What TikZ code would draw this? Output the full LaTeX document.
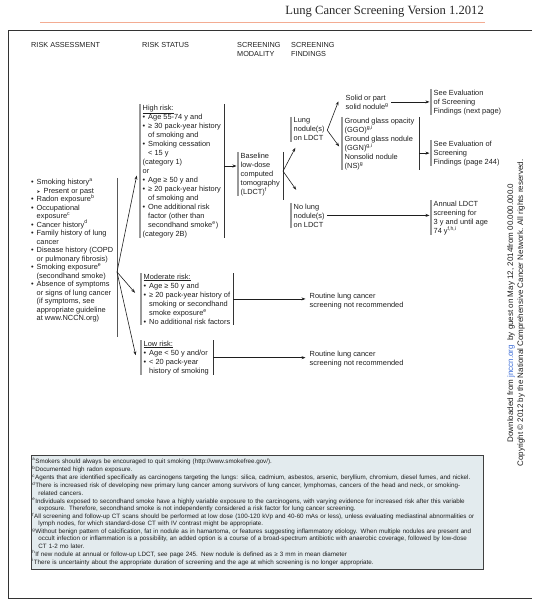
\documentclass[tikz,border=0pt]{standalone}
\usepackage{fontspec}
\setmainfont{Liberation Sans}
\newfontfamily\titlefont{Liberation Serif}
\newfontfamily\symfont{DejaVu Sans}
\usetikzlibrary{arrows.meta, calc}

\definecolor{salmon}{HTML}{F3AC92}
\definecolor{notefill}{HTML}{E3EBEE}
\definecolor{linkblue}{HTML}{3A6BD6}
\definecolor{ink}{HTML}{1E1E1E}

\hyphenpenalty=10000
\exhyphenpenalty=10000
\newcommand{\bul}{\makebox[5.5pt][l]{\textbullet}}
\newcommand{\ind}{\hspace*{5.5pt}}
\newcommand{\subbul}{\hspace*{5.5pt}\makebox[7pt][l]{\symfont\fontsize{4.5}{8.5}\selectfont ➤}}
\newcommand{\fnline}[2]{\hangindent=6pt\hangafter=1\noindent\textsuperscript{#1}#2\par\vspace{1.1pt}}

\begin{document}
\begin{tikzpicture}[x=1pt, y=-1pt, >={Stealth[length=4pt, width=3pt]},
  every node/.style={text=ink},
  head/.style={anchor=north west, inner sep=0pt, align=left, font=\fontsize{7.3}{9.5}\selectfont},
  blk/.style={anchor=north west, inner xsep=2.5pt, inner ysep=0.5pt, align=left, font=\fontsize{7.4}{9}\selectfont},
  lbar/.style={draw=black!40, line width=1.1pt},
  rbar/.style={draw=black!80, line width=0.7pt},
  arr/.style={->, draw=ink, line width=0.6pt, shorten >=1.5pt}]
  \useasboundingbox (0, 0) rectangle (532, 612);

  % page head and frame
  \node[anchor=base east, inner sep=0pt, font=\titlefont\fontsize{12.6}{14}\selectfont, text=black!85] (title) at (484, 14.5) {Lung Cancer Screening Version 1.2012};
  \draw[salmon, line width=1pt] (40, 22.5) -- (485, 22.5);
  \draw[black!80, line width=0.9pt] (532, 30) -- (8, 30) -- (8, 598) -- (532, 598);

  % column heads
  \node[head] (hra) at (31, 42) {RISK ASSESSMENT};
  \node[head] (hrs) at (142, 42) {RISK STATUS};
  \node[head] (hsm) at (237, 42) {SCREENING\\MODALITY};
  \node[head] (hsf) at (291, 42) {SCREENING\\FINDINGS};

  % risk assessment
  \node[blk, inner xsep=0pt, font=\fontsize{7.4}{8.5}\selectfont] (ra) at (31, 178) {\bul Smoking history\textsuperscript{a}\\
    \subbul Present or past\\
    \bul Radon exposure\textsuperscript{b}\\
    \bul Occupational\\
    \ind exposure\textsuperscript{c}\\
    \bul Cancer history\textsuperscript{d}\\
    \bul Family history of lung\\
    \ind cancer\\
    \bul Disease history (COPD\\
    \ind or pulmonary fibrosis)\\
    \bul Smoking exposure\textsuperscript{e}\\
    \ind (secondhand smoke)\\
    \bul Absence of symptoms\\
    \ind or signs of lung cancer\\
    \ind (if symptoms, see\\
    \ind appropriate guideline\\
    \ind at www.NCCN.org)};
  \coordinate (ra ne) at ($(ra.north west)+(86,0)$);
  \coordinate (ra se) at ($(ra.south west)+(86,14)$);
  \draw[rbar, draw=black!65] (ra ne) -- (ra se);

  % risk status
  \node[blk] (hr) at (140, 104) {\underline{High risk:}\\
    \bul Age 55-74 y and\\
    \bul ≥ 30 pack-year history\\
    \ind of smoking and\\
    \bul Smoking cessation\\
    \ind < 15 y\\
    (category 1)\\
    or\\
    \bul Age ≥ 50 y and\\
    \bul ≥ 20 pack-year history\\
    \ind of smoking and\\
    \bul One additional risk\\
    \ind factor (other than\\
    \ind secondhand smoke\textsuperscript{e})\\
    (category 2B)};
  \coordinate (hr ne) at ($(hr.north west)+(84,0)$);
  \coordinate (hr se) at ($(hr.south west)+(84,0)$);
  \draw[lbar] (hr.north west) -- (hr.south west);
  \draw[rbar] (hr ne) -- (hr se);

  \node[blk] (mod) at (141, 273) {\underline{Moderate risk:}\\
    \bul Age ≥ 50 y and\\
    \bul ≥ 20 pack-year history of\\
    \ind smoking or secondhand\\
    \ind smoke exposure\textsuperscript{e}\\
    \bul No additional risk factors};
  \coordinate (mod ne) at ($(mod.north west)+(92,0)$);
  \coordinate (mod se) at ($(mod.south west)+(92,0)$);
  \draw[lbar] (mod.north west) -- (mod.south west);
  \draw[rbar] (mod ne) -- (mod se);

  \node[blk] (low) at (141, 340) {\underline{Low risk:}\\
    \bul Age < 50 y and/or\\
    \bul < 20 pack-year\\
    \ind history of smoking};
  \coordinate (low ne) at ($(low.north west)+(72,0)$);
  \coordinate (low se) at ($(low.south west)+(72,0)$);
  \draw[lbar] (low.north west) -- (low.south west);
  \draw[rbar] (low ne) -- (low se);

  % screening modality and findings
  \node[blk] (base) at (238, 152) {Baseline\\low-dose\\computed\\tomography\\(LDCT)\textsuperscript{f}};
  \coordinate (base ne) at ($(base.north west)+(45,0)$);
  \coordinate (base se) at ($(base.south west)+(45,4)$);
  \draw[lbar] (base.north west) -- (base.south west);
  \draw[rbar] (base ne) -- (base se);

  \node[blk] (lung) at (291, 117) {Lung\\nodule(s)\\on LDCT};
  \draw[lbar] (lung.north west) -- (lung.south west);
  \node[blk] (nolung) at (291, 203) {No lung\\nodule(s)\\on LDCT};
  \draw[lbar] (nolung.north west) -- (nolung.south west);

  \node[blk] (solid) at (343, 94) {Solid or part\\solid nodule\textsuperscript{g}};
  \node[blk] (ggo) at (342, 117) {Ground glass opacity\\(GGO)\textsuperscript{g,i}\\Ground glass nodule\\(GGN)\textsuperscript{g,i}\\Nonsolid nodule\\(NS)\textsuperscript{g}};
  \coordinate (ggo ne) at ($(ggo.north west)+(77,0)$);
  \coordinate (ggo se) at ($(ggo.south west)+(77,0)$);
  \draw[lbar] (ggo.north west) -- (ggo.south west);
  \draw[rbar] (ggo ne) -- (ggo se);

  \node[blk] (evnext) at (431, 89) {See Evaluation\\of Screening\\Findings (next page)};
  \draw[lbar] (evnext.north west) -- (evnext.south west);
  \node[blk] (ev244) at (431, 140) {See Evaluation of\\Screening\\Findings (page 244)};
  \draw[lbar] (ev244.north west) -- (ev244.south west);
  \node[blk] (annual) at (431, 200) {Annual LDCT\\screening for\\3 y and until age\\74 y\textsuperscript{f,h,i}};
  \draw[lbar] (annual.north west) -- (annual.south west);

  \node[blk] (rout1) at (307, 292) {Routine lung cancer\\screening not recommended};
  \node[blk] (rout2) at (307, 350) {Routine lung cancer\\screening not recommended};

  % connectors
  \coordinate (rafan) at ($(ra ne)+(0,94)$);
  \draw[arr] (rafan) -- ($(hr.west)+(-3,3)$);
  \draw[arr] (rafan) -- ($(mod.west)+(-5,-5)$);
  \draw[arr] (rafan) -- ($(low.west)+(-5,-1)$);
  \coordinate (basein) at ($(base.north west)+(0,14)$);
  \draw[arr] (hr ne |- basein) -- (basein);
  \coordinate (basefan) at ($(base ne |- base.east)+(0,-3)$);
  \draw[arr] (basefan) -- ($(lung.south west)+(5,5)$);
  \draw[arr] (basefan) -- ($(nolung.north west)+(6,-12)$);
  \coordinate (lungfan) at ($(lung.east)+(0,1)$);
  \draw[arr] (lungfan) -- ($(solid.west)+(-4,-2)$);
  \draw[arr] (lungfan) -- ($(ggo.west)+(-2,4)$);
  \draw[arr] (solid.east) -- (solid.east -| evnext.west);
  \draw[arr] (ggo ne |- ev244.west) -- (ev244.west);
  \draw[arr] (nolung.east) -- (nolung.east -| annual.west);
  \draw[arr] (mod ne |- mod.west) -- (mod.west -| rout1.west);
  \draw[arr] (low ne |- low.west) -- (low.west -| rout2.west);

  % side note
  \node[rotate=90, align=center, inner sep=0pt, font=\fontsize{8}{10}\selectfont] (dl) at (516, 313) {Downloaded from \textcolor{linkblue}{jnccn.org}\ \ by guest on May 12, 2014from 00.000.000.0\\Copyright \textcopyright{} 2012 by the National Comprehensive Cancer Network. All rights reserved.};

  % footnotes
  \node[anchor=north west, draw=black!75, line width=0.9pt, fill=notefill, minimum width=452pt, minimum height=112pt, text width=450pt, inner xsep=1pt, inner ysep=3pt, align=left, font=\fontsize{6.25}{7.1}\selectfont] (notes) at (31, 455) {%
    \fnline{a}{Smokers should always be encouraged to quit smoking (http://www.smokefree.gov/).}
    \fnline{b}{Documented high radon exposure.}
    \fnline{c}{Agents that are identified specifically as carcinogens targeting the lungs: silica, cadmium, asbestos, arsenic, beryllium, chromium, diesel fumes, and nickel.}
    \fnline{d}{There is increased risk of developing new primary lung cancer among survivors of lung cancer, lymphomas, cancers of the head and neck, or smoking-\newline related cancers.}
    \fnline{e}{Individuals exposed to secondhand smoke have a highly variable exposure to the carcinogens, with varying evidence for increased risk after this variable\newline exposure. Therefore, secondhand smoke is not independently considered a risk factor for lung cancer screening.}
    \fnline{f}{All screening and follow-up CT scans should be performed at low dose (100-120 kVp and 40-60 mAs or less), unless evaluating mediastinal abnormalities or\newline lymph nodes, for which standard-dose CT with IV contrast might be appropriate.}
    \fnline{g}{Without benign pattern of calcification, fat in nodule as in hamartoma, or features suggesting inflammatory etiology. When multiple nodules are present and\newline occult infection or inflammation is a possibility, an added option is a course of a broad-spectrum antibiotic with anaerobic coverage, followed by low-dose\newline CT 1-2 mo later.}
    \fnline{h}{If new nodule at annual or follow-up LDCT, see page 245. New nodule is defined as ≥ 3 mm in mean diameter}
    \fnline{i}{There is uncertainty about the appropriate duration of screening and the age at which screening is no longer appropriate.}};
\end{tikzpicture}
\end{document}
